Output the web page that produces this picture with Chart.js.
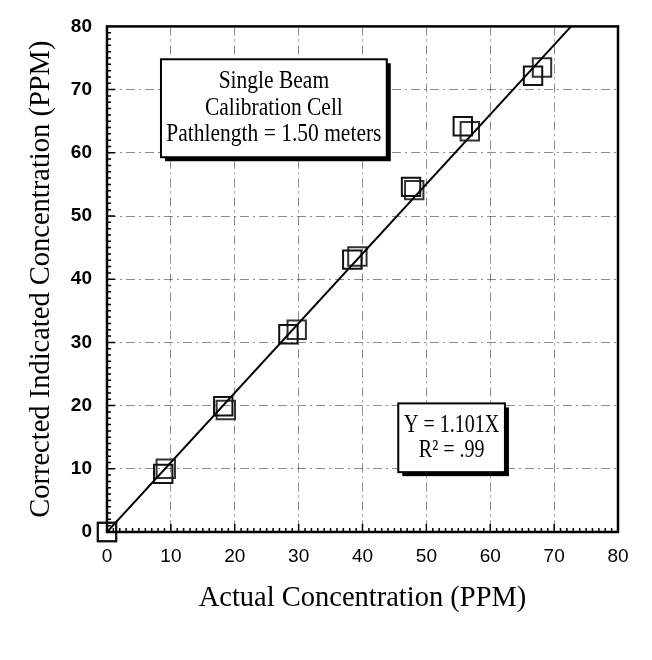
<!DOCTYPE html>
<html>
<head>
<meta charset="utf-8">
<script src="https://cdn.jsdelivr.net/npm/chart.js@4"></script>
<style>
  html, body { margin: 0; padding: 0; background: #fff; }
  #wrap { width: 652px; height: 660px; }
</style>
</head>
<body>
<div id="wrap"><canvas id="calChart" width="652" height="660"></canvas></div>
<script>
// two overlapping readings per concentration step
const run1X = [0, 8.8, 18.2, 28.4, 38.4, 47.6, 55.7, 66.7];
const run1Y = [0, 9.2, 19.9, 31.3, 43.1, 54.6, 64.2, 72.2];
const run2X = [0, 9.2, 18.6, 29.7, 39.2, 48.1, 56.8, 68.1];
const run2Y = [0, 10.0, 19.3, 32.0, 43.6, 54.1, 63.4, 73.5];
// regression line Y = 1.101X, drawn to the top of the plot
const fitX = [0, 72.66];
const fitY = [0, 80];
const axisMin = 0;
const axisMax = 80;
const axisStep = 10;
const noteLines = ['Single Beam', 'Calibration Cell', 'Pathlength = 1.50 meters'];
const fitLines = ['Y = 1.101X', 'R\u00b2 = .99'];

const toPoints = (xs, ys) => xs.map((x, i) => ({ x, y: ys[i] }));

const serif = '"Liberation Serif", "DejaVu Serif", serif';
const sans = '"Liberation Sans", Arial, sans-serif';

function drawBox(ctx, left, top, right, bottom, lines, lineGap, fontSize, squeeze) {
  ctx.save();
  ctx.setLineDash([]);
  // drop shadow
  ctx.fillStyle = '#000';
  ctx.fillRect(left + 4, top + 4, right - left, bottom - top);
  ctx.fillStyle = '#fff';
  ctx.fillRect(left, top, right - left, bottom - top);
  ctx.lineWidth = 2;
  ctx.strokeStyle = '#000';
  ctx.strokeRect(left, top, right - left, bottom - top);
  ctx.fillStyle = '#000';
  ctx.font = fontSize + 'px ' + serif;
  ctx.textAlign = 'center';
  ctx.textBaseline = 'middle';
  const cx = (left + right) / 2;
  const startY = (top + bottom) / 2 - (lines.length - 1) * lineGap / 2;
  lines.forEach((t, i) => {
    ctx.save();
    ctx.translate(cx, startY + i * lineGap);
    ctx.scale(squeeze, 1);
    ctx.fillText(t, 0, 0);
    ctx.restore();
  });
  ctx.restore();
}

const framePlugin = {
  id: 'frame',
  beforeDatasetsDraw(chart) {
    const { ctx, scales: { x, y } } = chart;
    drawBox(ctx, x.getPixelForValue(8.45), y.getPixelForValue(74.8),
      x.getPixelForValue(43.8), y.getPixelForValue(59.3), noteLines, 26.5, 25, 0.86);
    drawBox(ctx, x.getPixelForValue(45.6), y.getPixelForValue(20.35),
      x.getPixelForValue(62.3), y.getPixelForValue(9.47), fitLines, 25, 25, 0.8);
  },
  afterDatasetsDraw(chart) {
    const { ctx, chartArea: a, scales: { x, y } } = chart;
    ctx.save();
    ctx.setLineDash([]);
    ctx.strokeStyle = '#000';
    // inward tick marks on left and bottom axes
    ctx.lineWidth = 1.5;
    ctx.beginPath();
    for (let v = axisMin + 1; v < axisMax; v++) {
      const len = v % axisStep === 0 ? 8 : 4;
      const px = x.getPixelForValue(v);
      ctx.moveTo(px, a.bottom);
      ctx.lineTo(px, a.bottom - len);
      const py = y.getPixelForValue(v);
      ctx.moveTo(a.left, py);
      ctx.lineTo(a.left + len, py);
    }
    ctx.stroke();
    ctx.lineWidth = 2.5;
    ctx.strokeRect(a.left, a.top, a.right - a.left, a.bottom - a.top);
    ctx.restore();
  }
};

new Chart(document.getElementById('calChart'), {
  type: 'scatter',
  data: {
    datasets: [
      {
        type: 'line',
        label: 'Fit',
        data: toPoints(fitX, fitY),
        borderColor: '#000',
        borderWidth: 2,
        pointRadius: 0,
        fill: false
      },
      {
        label: 'Run 1',
        data: toPoints(run1X, run1Y),
        pointStyle: 'rect',
        pointRadius: 13,
        borderColor: '#111',
        borderWidth: 2,
        backgroundColor: 'rgba(0,0,0,0)',
        clip: false
      },
      {
        label: 'Run 2',
        data: toPoints(run2X, run2Y),
        pointStyle: 'rect',
        pointRadius: 13,
        borderColor: '#333',
        borderWidth: 2,
        backgroundColor: 'rgba(0,0,0,0)',
        clip: false
      }
    ]
  },
  options: {
    responsive: false,
    animation: false,
    layout: { padding: { left: 0, right: 34, top: 25, bottom: 0 } },
    plugins: { legend: { display: false }, tooltip: { enabled: false } },
    scales: {
      x: {
        type: 'linear',
        min: axisMin,
        max: axisMax,
        afterFit: s => { s.height = 128; },
        ticks: { stepSize: axisStep, padding: 13, color: '#000', font: { family: sans, size: 19 } },
        grid: { color: 'rgba(0,0,0,0.45)', lineWidth: 1, drawTicks: false },
        border: { display: false, dash: [9, 4, 2, 4] },
        title: {
          display: true,
          text: 'Actual Concentration (PPM)',
          color: '#000',
          font: { family: serif, size: 28.5 },
          padding: { bottom: 44 }
        }
      },
      y: {
        type: 'linear',
        min: axisMin,
        max: axisMax,
        afterFit: s => { s.width = 107; },
        ticks: { stepSize: axisStep, padding: 15, color: '#000', font: { family: sans, size: 19, weight: 'bold' } },
        grid: { color: 'rgba(0,0,0,0.45)', lineWidth: 1, drawTicks: false },
        border: { display: false, dash: [9, 4, 2, 4] },
        title: {
          display: true,
          text: 'Corrected Indicated Concentration (PPM)',
          color: '#000',
          font: { family: serif, size: 28.5 },
          padding: { top: 24 }
        }
      }
    }
  },
  plugins: [framePlugin]
});
</script>
</body>
</html>
